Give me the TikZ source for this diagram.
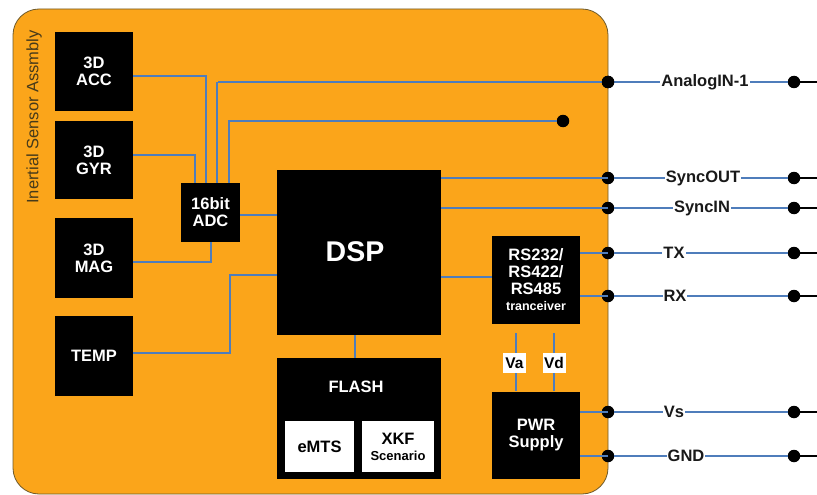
\documentclass[tikz,border=0pt]{standalone}
\usepackage{fontspec}
\setmainfont{Liberation Sans}
\begin{document}
\begin{tikzpicture}[x=1pt,y=-1pt,
  blk/.style={fill=black,draw=none,text=white,font=\bfseries\fontsize{16.5}{17}\selectfont,align=center,inner sep=0pt},
  wbox/.style={fill=white,draw=none,text=black,font=\bfseries\fontsize{16.5}{17}\selectfont,align=center,inner sep=0pt},
  wire/.style={draw=wireblue,line width=2pt},
  ext/.style={draw=wireblue,line width=2pt},
  dot/.style={circle,fill=black,minimum size=12.5pt,inner sep=0pt},
  lbl/.style={fill=white,inner sep=1pt,font=\bfseries\fontsize{16.5}{17}\selectfont,text=black!90}
]
\definecolor{orng}{HTML}{FBA51A}
\definecolor{wireblue}{HTML}{4F7DBB}
\definecolor{edgec}{HTML}{6E5A2A}
\definecolor{titlec}{HTML}{463A1A}
\useasboundingbox (0,0) rectangle (817,495);
\fill[white] (0,0) rectangle (817,495);
% housing
\draw[fill=orng,draw=edgec,line width=0.8pt,rounded corners=26pt] (13,9) rectangle (608,494);
\node[rotate=90,font=\fontsize{16.5}{17}\selectfont,text=titlec] (title) at (34,117) {Inertial Sensor Assmbly};

% blocks
\node[blk,minimum width=78pt,minimum height=79pt] (acc) at (94,71.5) {3D\\ACC};
\node[blk,minimum width=78pt,minimum height=78pt] (gyr) at (94,160) {3D\\GYR};
\node[blk,minimum width=78pt,minimum height=80pt] (mag) at (94,258) {3D\\MAG};
\node[blk,minimum width=78pt,minimum height=80pt] (temp) at (94,356) {TEMP};
\node[blk,minimum width=59pt,minimum height=59pt] (adc) at (210.5,212.5) {16bit\\ADC};
\node[blk,minimum width=164pt,minimum height=165pt] (dsp) at (359,252.5) {};
\node[font=\bfseries\fontsize{28.5}{30}\selectfont,text=white] (dsplbl) at (355,252) {DSP};
\node[blk,minimum width=164pt,minimum height=121pt] (flash) at (359,418.5) {};
\node[text=white,font=\bfseries\fontsize{16.5}{17}\selectfont] (flashlbl) at (356,387) {FLASH};
\node[wbox,minimum width=69pt,minimum height=51pt] (emts) at (319.5,446.5) {eMTS};
\node[wbox,minimum width=72pt,minimum height=51pt] (xkf) at (398,446.5) {XKF\\[-1pt]{\fontsize{13}{14}\selectfont Scenario}};
\node[blk,minimum width=88pt,minimum height=88pt] (rs) at (536,279.5) {RS232/\\RS422/\\RS485\\[-1pt]{\fontsize{12.5}{13}\selectfont tranceiver}};
\node[blk,minimum width=88pt,minimum height=87pt] (pwr) at (536,435) {PWR\\Supply};

% internal wiring
\coordinate (accR) at (133,76);
\coordinate (gyrR) at (133,155);
\coordinate (magR) at (133,262);
\coordinate (tempR) at (133,353);
\draw[wire] (accR) -| (206,183);
\draw[wire] (gyrR) -| (195,183);
\draw[wire] (magR) -| (211,242);
\draw[wire] (240,215) -- (277,215);
\draw[wire] (tempR) -| (230,275) -- (277,275);
\node[dot] (d0) at (563,121) {};
\draw[wire] (229,183) |- (d0);
\draw[wire] (355,335) -- (355,358);
\draw[wire] (441,277) -- (492,277);
% Va / Vd
\draw[wire] (516,333) -- (516,391);
\draw[wire] (554,333) -- (554,391);
\node[wbox,minimum width=23pt,minimum height=20pt,font=\bfseries\fontsize{15.5}{16}\selectfont] (va) at (514.5,363) {Va};
\node[wbox,minimum width=23pt,minimum height=20pt,font=\bfseries\fontsize{15.5}{16}\selectfont] (vd) at (554,363) {Vd};

% external connections
\foreach \n/\y/\lx/\t/\sx in {an/82/705/AnalogIN-1/218, so/178/703/SyncOUT/441, si/208/702/SyncIN/441, tx/253/674/TX/580, rx/296/675/RX/580, vs/412/674/Vs/580, gnd/456/686/GND/580}{
  \node[dot] (\n A) at (608,\y) {};
  \node[dot] (\n B) at (794,\y) {};
  \coordinate (\n E) at (817,\y);
  \coordinate (\n S) at (\sx,\y);
  \draw[wire] (\n S) -- (\n A.center);
  \draw[ext] (\n A) -- (\n B);
  \draw[line width=2pt] (\n B.center) -- (\n E);
  \node[lbl] (\n L) at (\lx,\y) {\t};
}
\draw[wire] (217,183) -- (217,82);
\node[dot] at (608,82) {};
\end{tikzpicture}
\end{document}
